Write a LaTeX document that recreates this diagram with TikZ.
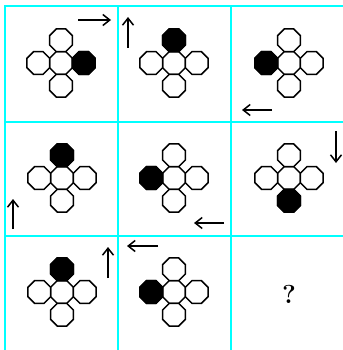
\documentclass[tikz,border=0pt]{standalone}
\usetikzlibrary{arrows.meta}
\definecolor{gridcyan}{RGB}{0,255,255}
\begin{document}
\begin{tikzpicture}[x=1pt,y=-1pt,
  grid/.style={draw=gridcyan,line width=2pt},
  octline/.style={draw=black,line width=1.5pt,fill=white,line join=miter},
  mv/.style={-{Straight Barb[length=7pt,width=11pt,line width=1.5pt]},line width=1.6pt},
  pics/oct/.style={code={\path[octline,#1] (22.5:12.3) \foreach \a in {67.5,112.5,157.5,202.5,247.5,292.5,337.5}{-- (\a:12.3)} -- cycle;}},
  pics/cluster/.style={code={
    \pic at (0,0) {oct={}};
    \pic at (0,-22.7) {oct={}};
    \pic at (0,22.7) {oct={}};
    \pic at (-22.7,0) {oct={}};
    \pic at (22.7,0) {oct={}};
    \pic at #1 {oct={fill=black}};
  }}]
\useasboundingbox (0,0) rectangle (342,350);
% grid
\draw[grid] (5,6) -- (5,352);
\draw[grid] (118,6) -- (118,352);
\draw[grid] (231,6) -- (231,352);
\draw[grid] (4,6) -- (345,6);
\draw[grid] (4,122) -- (345,122);
\draw[grid] (4,236) -- (345,236);
% clusters
\pic at (61,63) {cluster={(22.7,0)}};
\pic at (174,63) {cluster={(0,-22.7)}};
\pic at (289,63) {cluster={(-22.7,0)}};
\pic at (62,178) {cluster={(0,-22.7)}};
\pic at (174,178) {cluster={(-22.7,0)}};
\pic at (289,178) {cluster={(0,22.7)}};
\pic at (62,292) {cluster={(0,-22.7)}};
\pic at (174,292) {cluster={(-22.7,0)}};
% arrows
\coordinate (a1s) at (78,20);   \coordinate (a1e) at (111,20);
\coordinate (a2s) at (128,48);  \coordinate (a2e) at (128,17);
\coordinate (a3s) at (272,110); \coordinate (a3e) at (242,110);
\coordinate (a4s) at (13,229);  \coordinate (a4e) at (13,199);
\coordinate (a5s) at (224,223); \coordinate (a5e) at (194,223);
\coordinate (a6s) at (336,131); \coordinate (a6e) at (336,163);
\coordinate (a7s) at (108,278); \coordinate (a7e) at (108,247);
\coordinate (a8s) at (158,246); \coordinate (a8e) at (127,246);
\foreach \i in {1,...,8} {\draw[mv] (a\i s) -- (a\i e);}
% question mark
\node[font=\fontsize{26}{26}\selectfont\bfseries,inner sep=0pt] (q) at (289,294) {?};
\end{tikzpicture}
\end{document}
